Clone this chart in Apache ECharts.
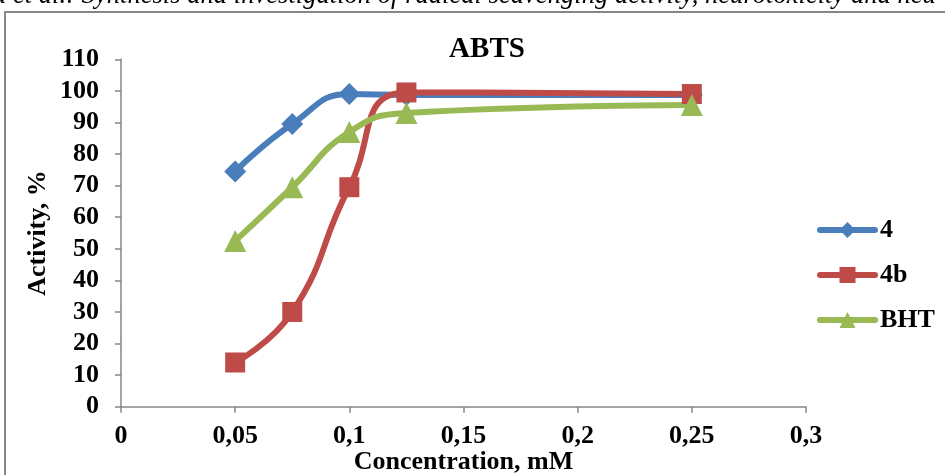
<!DOCTYPE html>
<html><head><meta charset="utf-8">
<script src="https://cdn.jsdelivr.net/npm/echarts@6/dist/echarts.min.js"></script>
<style>html,body{margin:0;padding:0;background:#fff}#c{width:945px;height:475px}</style>
</head><body><div id="c"></div>
<script>
const xValues = [0.05, 0.075, 0.1, 0.125, 0.25];
const s4 = [74.5, 89.5, 99, 98.7, 98.7];
const s4b = [14, 30, 69.5, 99.5, 99];
const sBHT = [52.5, 69.5, 87, 93, 95.5];
const seriesNames = ['4', '4b', 'BHT'];
const headerText = 'a et al.: Synthesis and investigation of radical scavenging activity, neurotoxicity and neu';

const font = '"Liberation Serif", "Times New Roman", serif';
const pair = (ys) => xValues.map((x, i) => [x, ys[i]]);
const chart = echarts.init(document.getElementById('c'), null, {renderer: 'canvas'});
const mk = (name, data, color, symbol, size) => ({
  name, type: 'line', data: pair(data), smooth: 0.5,
  symbol, symbolSize: size,
  lineStyle: {color, width: 6, cap: 'round', join: 'round'}, itemStyle: {color},
  emphasis: {disabled: true},
  z: 3
});
const axisText = {fontFamily: font, fontWeight: 'bold', fontSize: 26, color: '#000'};
chart.setOption({
  animation: false,
  title: {text: 'ABTS', left: 482, top: 30, textAlign: 'center',
    textStyle: {fontFamily: font, fontWeight: 'bold', fontSize: 29, color: '#000'}},
  graphic: [
    {type: 'rect', shape: {x: 5, y: 12, width: 1000, height: 600},
     style: {fill: 'none', stroke: '#868686', lineWidth: 2}},
    {type: 'text', x: -7, y: -18,
     style: {text: headerText, x: 0, y: 0, align: 'left', verticalAlign: 'top',
       fontFamily: font, fontStyle: 'italic', fontSize: 26.6, fill: '#000'}}
  ],
  legend: {
    orient: 'vertical', left: 812, top: 212, itemGap: 19, itemWidth: 55, itemHeight: 20,
    textStyle: axisText,
    lineStyle: {width: 6, cap: 'round'},
    data: seriesNames
  },
  grid: {left: 121, right: 139, top: 59.3, bottom: 68.3, containLabel: false, outerBoundsMode: 'none'},
  xAxis: {
    type: 'value', min: 0, max: 0.3, interval: 0.05,
    name: 'Concentration, mM', nameLocation: 'middle', nameGap: 43, nameMoveOverlap: false,
    nameTextStyle: axisText,
    axisLine: {lineStyle: {color: '#868686', width: 1.5}},
    axisTick: {show: true, length: 6, lineStyle: {color: '#868686', width: 1.5}},
    splitLine: {show: false},
    axisLabel: Object.assign({margin: 17,
      formatter: v => String(+v.toFixed(3)).replace('.', ',')}, axisText)
  },
  yAxis: {
    type: 'value', min: 0, max: 110, interval: 10,
    name: 'Activity, %', nameLocation: 'middle', nameGap: 70, nameMoveOverlap: false,
    nameTextStyle: axisText,
    axisLine: {show: true, lineStyle: {color: '#868686', width: 1.5}},
    axisTick: {show: true, length: 6, lineStyle: {color: '#868686', width: 1.5}},
    splitLine: {show: false},
    axisLabel: Object.assign({margin: 22}, axisText)
  },
  series: [
    mk(seriesNames[0], s4, '#4A7EBB', 'diamond', 22),
    mk(seriesNames[1], s4b, '#BE4B48', 'rect', 20),
    mk(seriesNames[2], sBHT, '#98B954', 'triangle', 22)
  ]
});
</script></body></html>
